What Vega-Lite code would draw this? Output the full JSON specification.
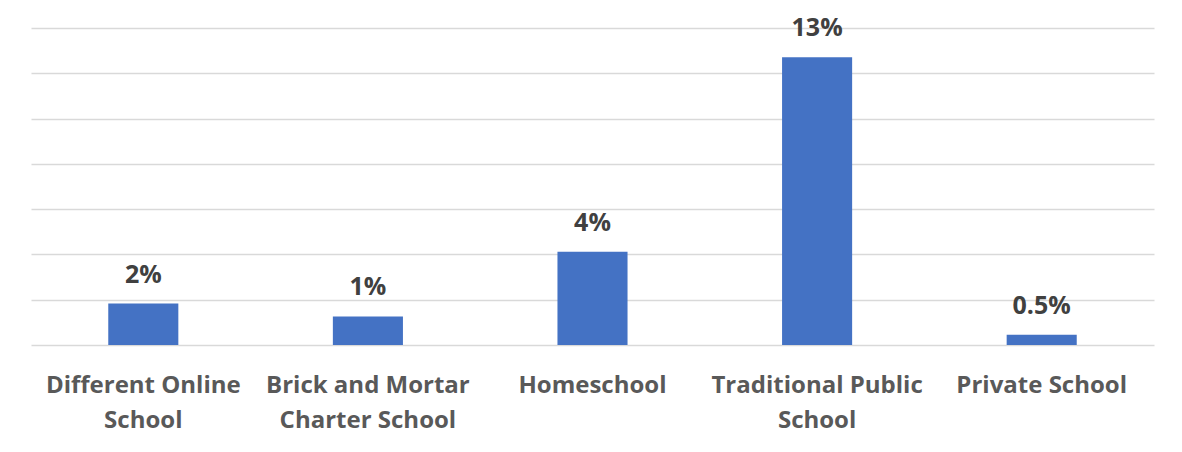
{
  "$schema": "https://vega.github.io/schema/vega-lite/v6.json",
  "width": 1123,
  "height": 317,
  "autosize": {"type": "none"},
  "padding": {"left": 31, "top": 28, "right": 28, "bottom": 107},
  "background": "white",
  "config": {"view": {"stroke": null}},
  "data": {
    "values": [
      {"category": "Different Online|School", "value": 1.83, "label": "2%"},
      {"category": "Brick and Mortar|Charter School", "value": 1.26, "label": "1%"},
      {"category": "Homeschool", "value": 4.12, "label": "4%"},
      {"category": "Traditional Public|School", "value": 12.71, "label": "13%"},
      {"category": "Private School", "value": 0.45, "label": "0.5%"}
    ]
  },
  "encoding": {
    "x": {
      "field": "category",
      "type": "nominal",
      "sort": null,
      "scale": {"paddingInner": 0.688, "paddingOuter": 0.344},
      "axis": {
        "title": null,
        "labelAngle": 0,
        "labelExpr": "split(datum.label, '|')",
        "labelFont": "Open Sans",
        "labelFontWeight": "bold",
        "labelFontSize": 24,
        "labelColor": "#595959",
        "labelPadding": 28,
        "labelLineHeight": 35,
        "labelBaseline": "top",
        "labelLimit": 0,
        "labelOverlap": false,
        "ticks": false,
        "domain": false,
        "grid": false
      }
    },
    "y": {
      "field": "value",
      "type": "quantitative",
      "scale": {"domain": [0, 14], "nice": false},
      "axis": {
        "title": null,
        "values": [0, 2, 4, 6, 8, 10, 12, 14],
        "labels": false,
        "ticks": false,
        "domain": false,
        "grid": true,
        "gridColor": "#d9d9d9",
        "gridWidth": 1.4
      }
    }
  },
  "layer": [
    {"mark": {"type": "bar", "color": "#4472C4"}},
    {
      "mark": {
        "type": "text",
        "font": "Open Sans",
        "fontWeight": "bold",
        "fontSize": 25,
        "color": "#404040",
        "baseline": "alphabetic",
        "dy": -21
      },
      "encoding": {"text": {"field": "label"}}
    }
  ]
}
